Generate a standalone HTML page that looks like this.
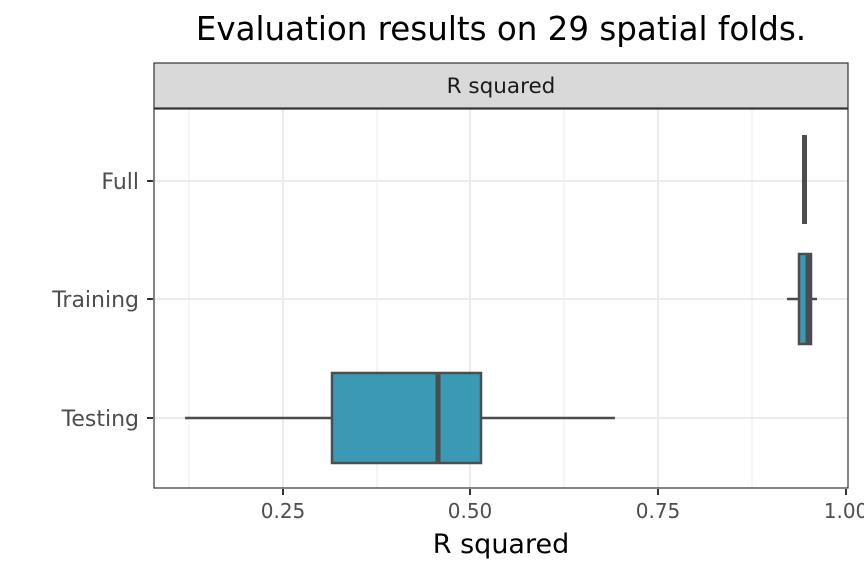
<!DOCTYPE html>
<html><head><style>body{margin:0;background:#fff}</style></head><body>
<svg width="864" height="576" xmlns="http://www.w3.org/2000/svg" font-family="'DejaVu Sans','Liberation Sans',sans-serif">
<rect width="864" height="576" fill="#fff"/>
<text x="501" y="40" font-size="32.5" text-anchor="middle" fill="#000">Evaluation results on 29 spatial folds.</text>
<rect x="154" y="63" width="694" height="45" fill="#d9d9d9" stroke="#333" stroke-width="1.2"/>
<text x="501" y="93" font-size="21.5" text-anchor="middle" fill="#1a1a1a">R squared</text>
<g stroke="#ebebeb" stroke-width="1">
<line x1="189" y1="109" x2="189" y2="488"/><line x1="377" y1="109" x2="377" y2="488"/><line x1="564" y1="109" x2="564" y2="488"/><line x1="752" y1="109" x2="752" y2="488"/>
</g>
<g stroke="#ebebeb" stroke-width="2">
<line x1="283" y1="109" x2="283" y2="488"/><line x1="470" y1="109" x2="470" y2="488"/><line x1="658" y1="109" x2="658" y2="488"/>
<line x1="154" y1="181" x2="848" y2="181"/><line x1="154" y1="299" x2="848" y2="299"/><line x1="154" y1="418" x2="848" y2="418"/>
</g>
<g stroke="#4d4d4d" stroke-width="2.5">
<line x1="185" y1="418" x2="332" y2="418"/><line x1="481" y1="418" x2="615" y2="418"/>
<rect x="332" y="373" width="149" height="90" fill="#3a9ab5"/>
<line x1="438" y1="373" x2="438" y2="463" stroke-width="5"/>
<line x1="787" y1="299" x2="817" y2="299"/>
<rect x="799" y="254" width="12" height="90" fill="#3a9ab5"/>
<line x1="808" y1="254" x2="808" y2="344" stroke-width="5"/>
</g>
<rect x="802" y="135" width="5" height="89" fill="#4d4d4d"/>
<rect x="154" y="109" width="694" height="379" fill="none" stroke="#333" stroke-width="1.2"/>
<g stroke="#333" stroke-width="2">
<line x1="147" y1="181" x2="153" y2="181"/><line x1="147" y1="299" x2="153" y2="299"/><line x1="147" y1="418" x2="153" y2="418"/>
<line x1="283" y1="489" x2="283" y2="495"/><line x1="470" y1="489" x2="470" y2="495"/><line x1="658" y1="489" x2="658" y2="495"/><line x1="846" y1="489" x2="846" y2="495"/>
</g>
<g font-size="22" fill="#4d4d4d" text-anchor="end">
<text x="139" y="189">Full</text><text x="139" y="307">Training</text><text x="139" y="426">Testing</text>
</g>
<g font-size="20" fill="#4d4d4d" text-anchor="middle">
<text x="283" y="518">0.25</text><text x="470" y="518">0.50</text><text x="658" y="518">0.75</text><text x="846" y="518">1.00</text>
</g>
<text x="501" y="553" font-size="27" text-anchor="middle" fill="#000">R squared</text>
</svg>
</body></html>
